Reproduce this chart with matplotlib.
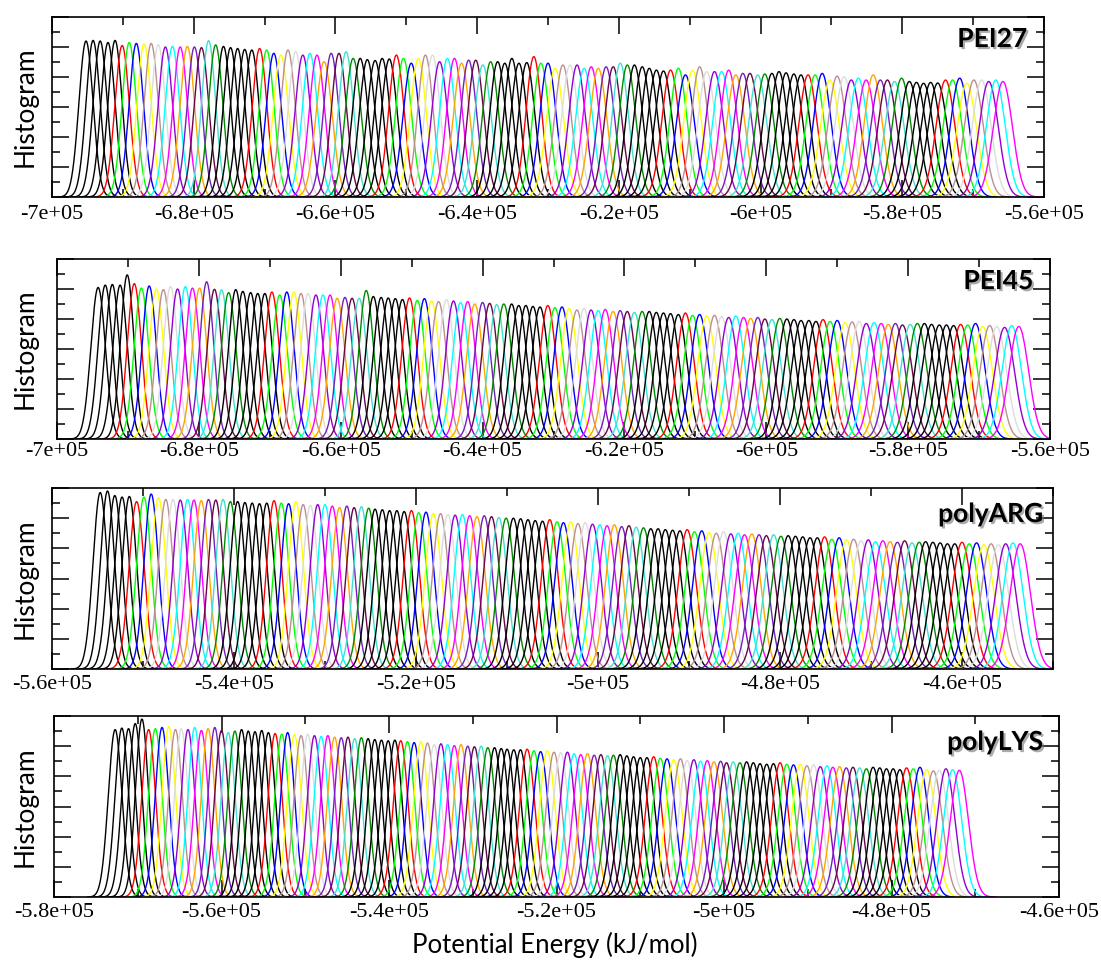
import numpy as np
import matplotlib
matplotlib.use("Agg")
import matplotlib.pyplot as plt
import matplotlib.patheffects as pe
from matplotlib.ticker import MultipleLocator

plt.rcParams["font.family"] = "serif"
plt.rcParams["font.serif"] = ["Liberation Serif", "DejaVu Serif"]

# ---- data (peak centres in 1e3 kJ/mol, peak heights in axis units) ----
pei27_centers = [
    -695.2, -694.2, -693.2, -692.1, -691.1, -690.1, -689.1, -688.1, -687.0, -686.0,
    -685.0, -684.0, -683.0, -681.9, -680.9, -679.9, -678.9, -677.9, -676.9, -675.8,
    -674.8, -673.8, -672.8, -671.8, -670.7, -669.7, -668.7, -667.7, -666.7, -665.6,
    -664.6, -663.6, -662.6, -661.6, -660.6, -659.5, -658.5, -657.5, -656.5, -655.5,
    -654.4, -653.4, -652.4, -651.4, -650.4, -649.3, -648.3, -647.3, -646.3, -645.3,
    -644.2, -643.2, -642.2, -641.2, -640.2, -639.2, -638.1, -637.1, -636.1, -635.1,
    -634.1, -633.0, -632.0, -631.0, -630.0, -629.0, -627.9, -626.9, -625.9, -624.9,
    -623.9, -622.9, -621.8, -620.8, -619.8, -618.8, -617.8, -616.7, -615.7, -614.7,
    -613.7, -612.7, -611.6, -610.6, -609.6, -608.6, -607.6, -606.5, -605.5, -604.5,
    -603.5, -602.5, -601.5, -600.4, -599.4, -598.4, -597.4, -596.4, -595.3, -594.3,
    -593.3, -592.3, -591.3, -590.2, -589.2, -588.2, -587.2, -586.2, -585.1, -584.1,
    -583.1, -582.1, -581.1, -580.1, -579.0, -578.0, -577.0, -576.0, -575.0, -573.9,
    -572.9, -571.9, -570.9, -569.9, -568.8, -567.8, -566.8, -565.8]
pei27_heights = [
    5.20, 5.22, 5.20, 5.15, 5.22,
    5.05, 5.15, 5.12, 5.10, 5.12, 5.08, 5.00, 5.02, 5.00, 5.02, 5.00, 4.98, 5.21, 5.07,
    5.02, 4.98, 4.95, 4.92, 4.90,
    4.95, 4.90, 4.79, 4.73, 4.90, 4.85, 4.73, 4.79, 4.73, 4.51, 4.79, 4.79, 4.84, 4.62,
    4.62, 4.58, 4.55, 4.62, 4.60,
    4.73, 4.62, 4.46, 4.62, 4.73, 4.73, 4.51, 4.62, 4.62, 4.46, 4.56, 4.56, 4.40, 4.51,
    4.51, 4.46, 4.62, 4.46, 4.48,
    4.68, 4.46, 4.46, 4.29, 4.40, 4.40, 4.40, 4.29, 4.34, 4.29, 4.34, 4.34, 4.46, 4.40,
    4.40, 4.34, 4.29, 4.23, 4.20,
    4.23, 4.29, 4.07, 4.23, 4.34, 4.18, 4.18, 4.18, 4.23, 4.07, 4.12, 4.12, 4.07, 4.10,
    4.12, 4.18, 4.14, 4.10, 4.07,
    4.07, 4.07, 4.12, 3.90, 4.03, 4.01, 3.90, 3.96, 3.90, 4.07, 3.90, 3.90, 3.85, 3.96,
    3.85, 3.82, 3.79, 3.82, 3.80,
    3.90, 3.90, 3.96, 3.79, 3.90, 3.90, 3.85, 3.90, 3.85]

pei45_centers = [
    -694.2, -693.2, -692.2, -691.1, -690.1, -689.1, -688.1, -687.0, -686.0, -685.0,
    -684.0, -683.0, -681.9, -680.9, -679.9, -678.9, -677.8, -676.8, -675.8, -674.8,
    -673.8, -672.7, -671.7, -670.7, -669.7, -668.6, -667.6, -666.6, -665.6, -664.6,
    -663.5, -662.5, -661.5, -660.5, -659.4, -658.4, -657.4, -656.4, -655.4, -654.3,
    -653.3, -652.3, -651.3, -650.3, -649.2, -648.2, -647.2, -646.2, -645.1, -644.1,
    -643.1, -642.1, -641.1, -640.0, -639.0, -638.0, -637.0, -635.9, -634.9, -633.9,
    -632.9, -631.9, -630.8, -629.8, -628.8, -627.8, -626.7, -625.7, -624.7, -623.7,
    -622.7, -621.6, -620.6, -619.6, -618.6, -617.5, -616.5, -615.5, -614.5, -613.5,
    -612.4, -611.4, -610.4, -609.4, -608.4, -607.3, -606.3, -605.3, -604.3, -603.2,
    -602.2, -601.2, -600.2, -599.2, -598.1, -597.1, -596.1, -595.1, -594.0, -593.0,
    -592.0, -591.0, -590.0, -588.9, -587.9, -586.9, -585.9, -584.8, -583.8, -582.8,
    -581.8, -580.8, -579.7, -578.7, -577.7, -576.7, -575.6, -574.6, -573.6, -572.6,
    -571.6, -570.5, -569.5, -568.5, -567.5, -566.4, -565.4, -564.4]
pei45_heights = [
    5.05, 5.13, 5.15, 5.13, 5.47,
    5.18, 5.03, 5.10, 5.00, 4.98, 5.08, 5.00, 5.08, 5.03, 5.03, 5.24, 4.99, 4.97, 4.88,
    4.98, 4.92, 4.88, 4.85, 4.85,
    4.90, 4.80, 4.90, 4.90, 4.85, 4.85, 4.80, 4.80, 4.80, 4.69, 4.72, 4.69, 4.69, 4.95,
    4.75, 4.72, 4.70, 4.68, 4.65,
    4.70, 4.62, 4.68, 4.60, 4.58, 4.65, 4.60, 4.55, 4.58, 4.50, 4.55, 4.52, 4.48, 4.50,
    4.50, 4.45, 4.45, 4.42, 4.40,
    4.45, 4.38, 4.40, 4.35, 4.30, 4.35, 4.30, 4.28, 4.32, 4.25, 4.28, 4.25, 4.22, 4.25,
    4.25, 4.22, 4.20, 4.18, 4.15,
    4.20, 4.12, 4.15, 4.10, 4.12, 4.08, 4.05, 4.10, 4.05, 4.02, 4.05, 4.00, 3.98, 4.02,
    4.00, 3.98, 3.95, 3.95, 3.92,
    3.98, 3.92, 3.95, 3.88, 3.90, 3.92, 3.85, 3.88, 3.85, 3.82, 3.85, 3.80, 3.82, 3.85,
    3.85, 3.82, 3.80, 3.80, 3.78,
    3.82, 3.80, 3.85, 3.75, 3.78, 3.75, 3.72, 3.78, 3.75]

polyarg_centers = [
    -554.7, -553.9, -553.1, -552.3, -551.5, -550.7, -549.9, -549.1, -548.3, -547.5,
    -546.7, -545.9, -545.1, -544.4, -543.6, -542.8, -542.0, -541.2, -540.4, -539.6,
    -538.8, -538.0, -537.2, -536.4, -535.6, -534.8, -534.0, -533.2, -532.4, -531.6,
    -530.8, -530.0, -529.2, -528.4, -527.6, -526.8, -526.0, -525.2, -524.5, -523.7,
    -522.9, -522.1, -521.3, -520.5, -519.7, -518.9, -518.1, -517.3, -516.5, -515.7,
    -514.9, -514.1, -513.3, -512.5, -511.7, -510.9, -510.1, -509.3, -508.5, -507.7,
    -506.9, -506.1, -505.3, -504.5, -503.8, -503.0, -502.2, -501.4, -500.6, -499.8,
    -499.0, -498.2, -497.4, -496.6, -495.8, -495.0, -494.2, -493.4, -492.6, -491.8,
    -491.0, -490.2, -489.4, -488.6, -487.8, -487.0, -486.2, -485.4, -484.6, -483.9,
    -483.1, -482.3, -481.5, -480.7, -479.9, -479.1, -478.3, -477.5, -476.7, -475.9,
    -475.1, -474.3, -473.5, -472.7, -471.9, -471.1, -470.3, -469.5, -468.7, -467.9,
    -467.1, -466.3, -465.5, -464.7, -464.0, -463.2, -462.4, -461.6, -460.8, -460.0,
    -459.2, -458.4, -457.6, -456.8, -456.0, -455.2, -454.4, -453.6]
polyarg_heights = [
    5.85, 5.90, 5.75, 5.70, 5.72,
    5.55, 5.70, 5.80, 5.68, 5.62, 5.62, 5.60, 5.62, 5.60, 5.58, 5.62, 5.60, 5.62, 5.55,
    5.55, 5.52, 5.50, 5.48, 5.50,
    5.58, 5.50, 5.48, 5.55, 5.45, 5.42, 5.45, 5.45, 5.40, 5.35, 5.40, 5.35, 5.38, 5.33,
    5.30, 5.28, 5.25, 5.25, 5.22,
    5.25, 5.18, 5.20, 5.15, 5.15, 5.12, 5.10, 5.12, 5.08, 5.05, 5.08, 5.05, 5.02, 5.00,
    5.00, 4.98, 4.95, 4.92, 4.90,
    4.95, 4.88, 4.85, 4.88, 4.82, 4.85, 4.80, 4.78, 4.75, 4.78, 4.72, 4.75, 4.70, 4.68,
    4.65, 4.65, 4.62, 4.60, 4.58,
    4.62, 4.55, 4.58, 4.52, 4.50, 4.55, 4.48, 4.50, 4.45, 4.48, 4.45, 4.42, 4.45, 4.40,
    4.42, 4.40, 4.38, 4.35, 4.35,
    4.38, 4.30, 4.35, 4.28, 4.30, 4.25, 4.28, 4.22, 4.25, 4.22, 4.20, 4.25, 4.18, 4.20,
    4.22, 4.20, 4.18, 4.15, 4.15,
    4.20, 4.15, 4.18, 4.12, 4.15, 4.12, 4.15, 4.18, 4.15]

polylys_centers = [
    -572.7, -571.9, -571.1, -570.3, -569.5, -568.7, -567.9, -567.1, -566.3, -565.5,
    -564.8, -564.0, -563.2, -562.4, -561.6, -560.8, -560.0, -559.2, -558.4, -557.6,
    -556.8, -556.0, -555.2, -554.4, -553.6, -552.8, -552.1, -551.3, -550.5, -549.7,
    -548.9, -548.1, -547.3, -546.5, -545.7, -544.9, -544.1, -543.3, -542.5, -541.7,
    -540.9, -540.1, -539.3, -538.6, -537.8, -537.0, -536.2, -535.4, -534.6, -533.8,
    -533.0, -532.2, -531.4, -530.6, -529.8, -529.0, -528.2, -527.4, -526.6, -525.9,
    -525.1, -524.3, -523.5, -522.7, -521.9, -521.1, -520.3, -519.5, -518.7, -517.9,
    -517.1, -516.3, -515.5, -514.7, -513.9, -513.2, -512.4, -511.6, -510.8, -510.0,
    -509.2, -508.4, -507.6, -506.8, -506.0, -505.2, -504.4, -503.6, -502.8, -502.0,
    -501.2, -500.4, -499.7, -498.9, -498.1, -497.3, -496.5, -495.7, -494.9, -494.1,
    -493.3, -492.5, -491.7, -490.9, -490.1, -489.3, -488.5, -487.7, -487.0, -486.2,
    -485.4, -484.6, -483.8, -483.0, -482.2, -481.4, -480.6, -479.8, -479.0, -478.2,
    -477.4, -476.6, -475.8, -475.0, -474.3, -473.5, -472.7, -471.9]
polylys_heights = [
    5.55, 5.60, 5.58, 5.75, 5.90,
    5.55, 5.58, 5.62, 5.65, 5.55, 5.58, 5.55, 5.62, 5.52, 5.58, 5.62, 5.52, 5.45, 5.50,
    5.55, 5.50, 5.48, 5.52, 5.45,
    5.42, 5.40, 5.45, 5.38, 5.35, 5.40, 5.35, 5.32, 5.35, 5.30, 5.28, 5.30, 5.25, 5.28,
    5.25, 5.22, 5.20, 5.18, 5.20,
    5.18, 5.15, 5.12, 5.15, 5.10, 5.05, 5.08, 5.05, 5.02, 5.05, 5.00, 4.98, 5.00, 4.95,
    4.95, 4.92, 4.90, 4.88, 4.88,
    4.90, 4.85, 4.82, 4.85, 4.80, 4.78, 4.80, 4.75, 4.72, 4.75, 4.70, 4.72, 4.68, 4.70,
    4.72, 4.68, 4.65, 4.62, 4.62,
    4.65, 4.60, 4.58, 4.55, 4.58, 4.52, 4.55, 4.50, 4.52, 4.48, 4.50, 4.45, 4.48, 4.45,
    4.48, 4.45, 4.42, 4.40, 4.42,
    4.45, 4.40, 4.38, 4.40, 4.35, 4.38, 4.32, 4.35, 4.30, 4.32, 4.28, 4.30, 4.28, 4.25,
    4.30, 4.28, 4.25, 4.25, 4.22,
    4.28, 4.25, 4.30, 4.22, 4.18, 4.20, 4.25, 4.22, 4.20]

# x tick positions / labels for each panel
pei_ticks = [-7e5, -6.8e5, -6.6e5, -6.4e5, -6.2e5, -6e5, -5.8e5, -5.6e5]
pei_ticklabels = ["-7e+05", "-6.8e+05", "-6.6e+05", "-6.4e+05", "-6.2e+05", "-6e+05",
                  "-5.8e+05", "-5.6e+05"]
arg_ticks = [-5.6e5, -5.4e5, -5.2e5, -5e5, -4.8e5, -4.6e5]
arg_ticklabels = ["-5.6e+05", "-5.4e+05", "-5.2e+05", "-5e+05", "-4.8e+05", "-4.6e+05"]
lys_ticks = [-5.8e5, -5.6e5, -5.4e5, -5.2e5, -5e5, -4.8e5, -4.6e5]
lys_ticklabels = ["-5.8e+05", "-5.6e+05", "-5.4e+05", "-5.2e+05", "-5e+05", "-4.8e+05",
                  "-4.6e+05"]

# xmgrace palette: 5 black sets, then red ... green4
grace_colors = ["#FF0000", "#00FF00", "#0000FF", "#FFFF00", "#BC8F8F", "#DCDCDC",
                "#9400D3", "#00FFFF", "#FF00FF", "#FFA500", "#7221BC", "#670748",
                "#40E0D0", "#008B00"]


def replica_color(i):
    k = i % 19
    if k < 5:
        return "black"
    return grace_colors[k - 5]


W, H = 1101, 963
fig = plt.figure(figsize=(W / 100, H / 100), dpi=100)


def rect(left, right, top, bottom):
    return [left / W, 1 - bottom / H, (right - left) / W, (bottom - top) / H]


panels = [
    dict(name="PEI27", centers=pei27_centers, heights=pei27_heights, sig0=1000,
         xlim=(-7e5, -5.6e5), ticks=pei_ticks, labels=pei_ticklabels,
         box=rect(52, 1044, 17, 197), lab=(0.983, 0.833), pad=6),
    dict(name="PEI45", centers=pei45_centers, heights=pei45_heights, sig0=1000,
         xlim=(-7e5, -5.6e5), ticks=pei_ticks, labels=pei_ticklabels,
         box=rect(57, 1050, 259, 439), lab=(0.983, 0.833), pad=2),
    dict(name="polyARG", centers=polyarg_centers, heights=polyarg_heights, sig0=800,
         xlim=(-5.6e5, -4.5e5), ticks=arg_ticks, labels=arg_ticklabels,
         box=rect(52, 1053, 488, 669), lab=(0.990, 0.812), pad=4),
    dict(name="polyLYS", centers=polylys_centers, heights=polylys_heights, sig0=800,
         xlim=(-5.8e5, -4.6e5), ticks=lys_ticks, labels=lys_ticklabels,
         box=rect(54, 1059, 716, 897), lab=(0.984, 0.812), pad=4),
]

for p in panels:
    ax = fig.add_axes(p["box"])
    c = np.array(p["centers"]) * 1e3
    h = np.array(p["heights"])
    area = p["sig0"] * h[:5].mean()
    for i in range(len(c)):
        s = area / h[i]
        x = np.linspace(c[i] - 4 * s, c[i] + 4 * s, 160)
        y = h[i] * np.exp(-0.5 * ((x - c[i]) / s) ** 2)
        ax.plot(x, y, color=replica_color(i), lw=1.0, zorder=2.6)

    ax.set_xlim(*p["xlim"])
    ax.set_ylim(0, 6)
    ax.set_xticks(p["ticks"])
    ax.set_xticklabels(p["labels"], fontsize=16)
    ax.xaxis.set_minor_locator(MultipleLocator(1e4))
    ax.yaxis.set_major_locator(MultipleLocator(1))
    ax.yaxis.set_minor_locator(MultipleLocator(0.5))
    ax.set_yticklabels([])
    ax.tick_params(which="both", direction="in", top=True, right=True, width=1.1)
    ax.tick_params(which="major", length=12)
    ax.tick_params(which="minor", length=6)
    ax.tick_params(axis="x", pad=p["pad"])
    for sp in ax.spines.values():
        sp.set_linewidth(1.2)
        sp.set_zorder(3)

    ax.text(p["lab"][0], p["lab"][1], p["name"], transform=ax.transAxes,
            ha="right", va="baseline", fontsize=19, fontweight="bold",
            family="Lato", zorder=5,
            path_effects=[pe.withSimplePatchShadow(offset=(1.5, -1.5),
                                                   shadow_rgbFace="0.45", alpha=0.6)])

    b = p["box"]
    fig.text(25 / W, b[1] + b[3] / 2, "Histogram", rotation=90, ha="center",
             va="center", fontsize=19, family="Lato")

fig.text(555 / W, 1 - 945 / H, "Potential Energy (kJ/mol)", ha="center",
         va="center", fontsize=18.5, family="Lato")

fig.savefig("out.png", dpi=100)
